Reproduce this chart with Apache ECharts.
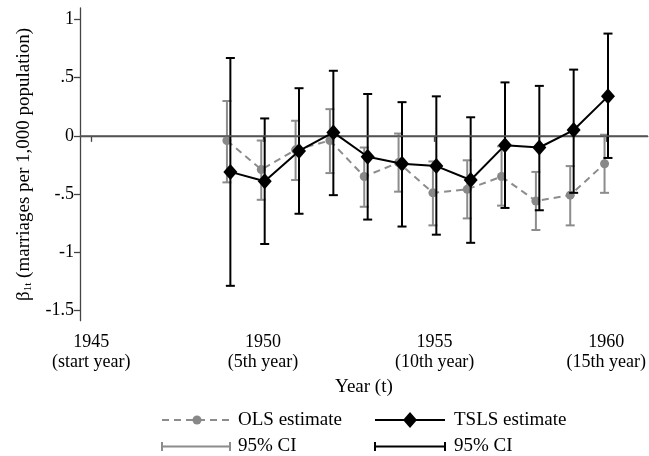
<!DOCTYPE html>
<html>
<head>
<meta charset="utf-8">
<script src="https://cdn.jsdelivr.net/npm/echarts@6/dist/echarts.min.js"></script>
<style>html,body{margin:0;padding:0;background:#fff}#c{width:649px;height:456px}</style>
</head>
<body>
<div id="c"></div>
<script>
const years = [1949,1950,1951,1952,1953,1954,1955,1956,1957,1958,1959,1960];
const olsEst = [-0.04,-0.29,-0.12,-0.04,-0.35,-0.23,-0.49,-0.46,-0.35,-0.56,-0.51,-0.24];
const olsLo  = [-0.40,-0.55,-0.38,-0.32,-0.61,-0.48,-0.77,-0.71,-0.60,-0.81,-0.77,-0.49];
const olsHi  = [0.30,-0.04,0.13,0.23,-0.10,0.02,-0.22,-0.21,-0.09,-0.31,-0.26,0.01];
const tslsEst = [-0.31,-0.39,-0.13,0.03,-0.18,-0.24,-0.26,-0.38,-0.08,-0.10,0.05,0.34];
const tslsLo  = [-1.29,-0.93,-0.67,-0.51,-0.72,-0.78,-0.85,-0.92,-0.62,-0.64,-0.49,-0.19];
const tslsHi  = [0.67,0.15,0.41,0.56,0.36,0.29,0.34,0.16,0.46,0.43,0.57,0.88];
const xTicks = [1945,1950,1955,1960];
const xTickLabels = ['1945\n(start year)','1950\n(5th year)','1955\n(10th year)','1960\n(15th year)'];
const yTicks = [-1.5,-1,-0.5,0,0.5,1];
const yTickLabels = ['-1.5','-1','-.5','0','.5','1'];

const DODGE = 0.05;
const FONT = 'Liberation Serif';
const FS = 18;
const FS2 = 19;
const GRAY = '#8c8c8c';

const olsPts = years.map((y,i)=>[y-DODGE, olsEst[i]]);
const tslsPts = years.map((y,i)=>[y+DODGE, tslsEst[i]]);
const olsCI = years.map((y,i)=>[y-DODGE, olsLo[i], olsHi[i]]);
const tslsCI = years.map((y,i)=>[y+DODGE, tslsLo[i], tslsHi[i]]);

function ciRender(color){
  return function(params, api){
    const x = api.value(0);
    const lo = api.coord([x, api.value(1)]);
    const hi = api.coord([x, api.value(2)]);
    const w = 4.5;
    const st = {stroke: color, lineWidth: 2, fill: null};
    return {type:'group', children:[
      {type:'line', shape:{x1:lo[0],y1:lo[1],x2:hi[0],y2:hi[1]}, style:st},
      {type:'line', shape:{x1:lo[0]-w,y1:lo[1],x2:lo[0]+w,y2:lo[1]}, style:st},
      {type:'line', shape:{x1:hi[0]-w,y1:hi[1],x2:hi[0]+w,y2:hi[1]}, style:st}
    ]};
  };
}

const chart = echarts.init(document.getElementById('c'), null, {renderer:'canvas'});
const legendY1 = 420, legendY2 = 446.5;
const lf = FS2+'px "'+FONT+'"';
chart.setOption({
  animation:false,
  backgroundColor:'#fff',
  textStyle:{fontFamily:FONT},
  grid:{left:80, right:0, top:8, bottom:135.3, containLabel:false},
  xAxis:{
    type:'value', min:1944.67, max:1961.21,
    name:'Year (t)', nameLocation:'middle', nameGap:48,
    nameTextStyle:{fontFamily:FONT, fontSize:FS2, color:'#000'},
    axisLine:{show:true, lineStyle:{color:'#444', width:1.3}},
    axisTick:{show:true, length:6, customValues:xTicks, lineStyle:{color:'#444', width:1.3}},
    axisLabel:{customValues:xTicks, margin:12, fontFamily:FONT, fontSize:FS, lineHeight:20, color:'#000',
      formatter:(v)=>xTickLabels[xTicks.indexOf(v)]},
    splitLine:{show:false}
  },
  yAxis:{
    type:'value', min:-1.59, max:1.1,
    name:'{b|β}{s|1t}{b| (marriages per 1,000 population)}', nameLocation:'middle', nameGap:46, nameRotate:90,
    nameTextStyle:{fontFamily:FONT, fontSize:FS2, color:'#000',
      rich:{b:{fontFamily:FONT, fontSize:FS2, color:'#000'}, s:{fontFamily:FONT, fontSize:11, color:'#000', padding:[8,0,0,0]}}},
    axisLine:{show:true, lineStyle:{color:'#444', width:1.3}},
    axisTick:{show:true, length:6, customValues:yTicks, lineStyle:{color:'#444', width:1.3}},
    axisLabel:{customValues:yTicks, margin:6, fontFamily:FONT, fontSize:FS, color:'#000',
      formatter:(v)=>yTickLabels[yTicks.indexOf(v)]},
    splitLine:{show:false}
  },
  series:[
    {type:'line', data:[], silent:true, z:1,
      markLine:{silent:true, symbol:'none', label:{show:false}, lineStyle:{color:'#595959', width:1.6, type:'solid'},
        data:[{yAxis:0}]}},
    {type:'custom', name:'OLS CI', data:olsCI, renderItem:ciRender(GRAY), z:2, encode:{x:0,y:[1,2]}},
    {type:'line', name:'OLS estimate', data:olsPts, z:3,
      lineStyle:{color:GRAY, width:2, type:[7,5]}, symbol:'circle', symbolSize:9,
      itemStyle:{color:'#888'}},
    {type:'custom', name:'TSLS CI', data:tslsCI, renderItem:ciRender('#000'), z:4, encode:{x:0,y:[1,2]}},
    {type:'line', name:'TSLS estimate', data:tslsPts, z:5,
      lineStyle:{color:'#000', width:2}, symbol:'diamond', symbolSize:[14,16],
      itemStyle:{color:'#000'}}
  ],
  graphic:[
    {type:'line', shape:{x1:162,y1:legendY1,x2:230,y2:legendY1}, style:{stroke:GRAY, lineWidth:2, lineDash:[7,5]}},
    {type:'circle', shape:{cx:197,cy:legendY1,r:4.5}, style:{fill:'#888'}},
    {type:'text', x:238, y:legendY1, style:{text:'OLS estimate', font:lf, fill:'#000', verticalAlign:'middle'}},
    {type:'line', shape:{x1:375,y1:legendY1,x2:445,y2:legendY1}, style:{stroke:'#000', lineWidth:2}},
    {type:'polygon', shape:{points:[[410,legendY1-8],[417,legendY1],[410,legendY1+8],[403,legendY1]]}, style:{fill:'#000'}},
    {type:'text', x:454, y:legendY1, style:{text:'TSLS estimate', font:lf, fill:'#000', verticalAlign:'middle'}},
    {type:'line', shape:{x1:162,y1:legendY2,x2:230,y2:legendY2}, style:{stroke:GRAY, lineWidth:2}},
    {type:'line', shape:{x1:162,y1:legendY2-4.5,x2:162,y2:legendY2+4.5}, style:{stroke:GRAY, lineWidth:2}},
    {type:'line', shape:{x1:230,y1:legendY2-4.5,x2:230,y2:legendY2+4.5}, style:{stroke:GRAY, lineWidth:2}},
    {type:'text', x:238, y:legendY2, style:{text:'95% CI', font:lf, fill:'#000', verticalAlign:'middle'}},
    {type:'line', shape:{x1:375,y1:legendY2,x2:445,y2:legendY2}, style:{stroke:'#000', lineWidth:2}},
    {type:'line', shape:{x1:375,y1:legendY2-4.5,x2:375,y2:legendY2+4.5}, style:{stroke:'#000', lineWidth:2}},
    {type:'line', shape:{x1:445,y1:legendY2-4.5,x2:445,y2:legendY2+4.5}, style:{stroke:'#000', lineWidth:2}},
    {type:'text', x:454, y:legendY2, style:{text:'95% CI', font:lf, fill:'#000', verticalAlign:'middle'}}
  ]
});
</script>
</body>
</html>
